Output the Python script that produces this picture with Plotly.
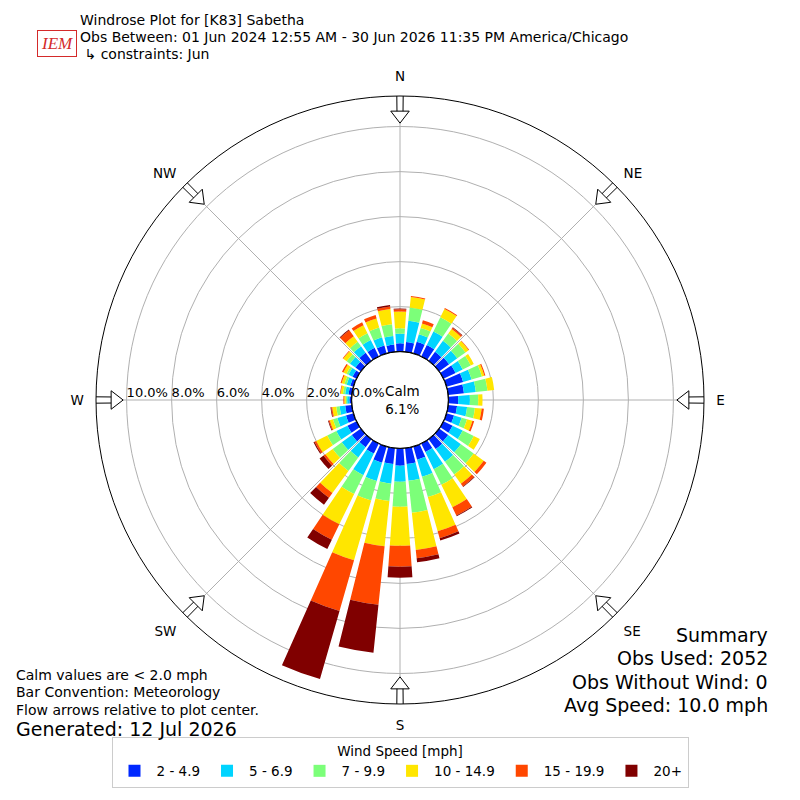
import numpy as np
import plotly.graph_objects as go

# wind rose data, percent of obs, one value per 10 degree direction
directions = list(range(0, 360, 10))

spd_2_5 = [0.37, 0.44, 0.54, 0.57, 0.50, 0.55, 0.60, 0.77, 0.71, 0.44, 0.40, 0.35,
           0.45, 0.50, 0.55, 0.42, 0.61, 0.71, 0.77, 0.71, 0.75, 0.50, 0.45, 0.50,
           0.45, 0.35, 0.30, 0.10, 0.15, 0.15, 0.20, 0.30, 0.45, 0.43, 0.37, 0.33]
spd_5_7 = [0.43, 0.95, 0.35, 0.67, 0.60, 0.45, 0.35, 0.39, 0.53, 0.52, 0.45, 0.35,
           0.50, 0.70, 0.70, 0.85, 0.79, 0.75, 0.71, 0.88, 0.85, 1.07, 0.56, 0.55,
           0.55, 0.40, 0.25, 0.10, 0.15, 0.17, 0.20, 0.30, 0.35, 0.39, 0.38, 0.38]
spd_7_10 = [0.24, 0.59, 0.29, 0.70, 0.40, 0.45, 0.40, 0.48, 0.52, 0.37, 0.35, 0.25,
            0.55, 0.70, 0.70, 0.77, 0.94, 1.43, 1.12, 0.77, 0.90, 0.93, 0.74, 0.50,
            0.45, 0.20, 0.15, 0.06, 0.10, 0.10, 0.10, 0.18, 0.25, 0.33, 0.45, 0.53]
spd_10_15 = [0.74, 0.47, 0.21, 0.41, 0.25, 0.17, 0.15, 0.11, 0.30, 0.19, 0.30, 0.25,
             0.30, 0.55, 0.50, 1.12, 1.58, 1.66, 1.73, 2.03, 2.76, 1.50, 1.21, 0.40,
             0.55, 0.15, 0.18, 0.07, 0.10, 0.13, 0.15, 0.19, 0.30, 0.40, 0.42, 0.68]
spd_15_20 = [0.10, 0.05, 0.15, 0.05, 0.07, 0.03, 0.00, 0.05, 0.00, 0.00, 0.10, 0.08,
             0.00, 0.15, 0.15, 0.40, 0.32, 0.37, 0.93, 2.61, 2.34, 0.76, 0.26, 0.10,
             0.08, 0.05, 0.05, 0.04, 0.03, 0.05, 0.07, 0.03, 0.33, 0.14, 0.16, 0.11]
spd_20_up = [0.04, 0.00, 0.00, 0.00, 0.03, 0.00, 0.00, 0.00, 0.00, 0.00, 0.00, 0.00,
             0.00, 0.00, 0.03, 0.04, 0.11, 0.18, 0.49, 2.14, 3.15, 0.46, 0.38, 0.22,
             0.05, 0.03, 0.03, 0.00, 0.00, 0.00, 0.00, 0.00, 0.04, 0.00, 0.00, 0.07]

bin_labels = ["2 - 4.9", "5 - 6.9", "7 - 9.9", "10 - 14.9", "15 - 19.9", "20+"]
bin_colors = ["#0028ff", "#00d4ff", "#7cff79", "#ffe600", "#ff4700", "#800000"]

calm_pct = 6.1
r_ticks = [0, 2, 4, 6, 8, 10]
compass = ["N", "NE", "E", "SE", "S", "SW", "W", "NW"]
compass_deg = [0, 45, 90, 135, 180, 225, 270, 315]

FONT = "DejaVu Sans"
r_max = 11.36
W = H = 784   # page body has an 8px margin


def px(x):
    return (x - 8) / W


def py(y):
    return 1 - (y - 8) / H


fig = go.Figure()

for vals, name, color in zip([spd_2_5, spd_5_7, spd_7_10, spd_10_15, spd_15_20, spd_20_up],
                             bin_labels, bin_colors):
    fig.add_trace(go.Barpolar(r=vals, theta=directions, width=8, name=name,
                              marker=dict(color=color, line=dict(width=0))))

# flow arrows on the outer ring: shaft + head
fig.add_trace(go.Barpolar(r=[1.0] * 8, theta=compass_deg, base=10.6, width=1.2,
                          marker=dict(color="white", line=dict(color="black", width=1)),
                          showlegend=False, hoverinfo="skip"))
fig.add_trace(go.Scatterpolar(r=[10.51] * 8, theta=compass_deg, mode="markers",
                              marker=dict(symbol="triangle-up", size=16, color="white",
                                          angle=[d + 180 for d in compass_deg],
                                          line=dict(color="black", width=1)),
                              showlegend=False, hoverinfo="skip"))

# black edge around the calm hole
ring = np.linspace(0, 360, 181)
fig.add_trace(go.Scatterpolar(r=[0] * len(ring), theta=ring, mode="lines",
                              line=dict(color="black", width=1.5),
                              showlegend=False, hoverinfo="skip"))

# radial tick labels, left aligned on each ring along the west spoke
fig.add_trace(go.Scatterpolar(r=r_ticks, theta=[270] * len(r_ticks), mode="text",
                              text=["%.1f%%" % t for t in r_ticks],
                              textposition="top right",
                              textfont=dict(size=13, color="black"),
                              showlegend=False, hoverinfo="skip"))

fig.update_layout(
    width=W, height=H,
    margin=dict(l=0, r=0, t=0, b=0),
    paper_bgcolor="white",
    font=dict(family=FONT, size=13, color="black"),
    polar=dict(
        domain=dict(x=[px(96), px(704)], y=[py(704), py(96)]),
        hole=0.159,
        bgcolor="white",
        barmode="stack",
        radialaxis=dict(range=[0, r_max], tickvals=r_ticks, showticklabels=False,
                        angle=180, showline=False, ticks="",
                        gridcolor="#b0b0b0", gridwidth=1),
        angularaxis=dict(rotation=90, direction="clockwise",
                         tickvals=compass_deg, ticktext=compass,
                         showline=True, linecolor="black", linewidth=1,
                         gridcolor="#b0b0b0", gridwidth=1,
                         ticks="outside", ticklen=9, tickcolor="rgba(0,0,0,0)",
                         tickfont=dict(size=13.5, color="black")),
    ),
    legend=dict(orientation="h", x=0.5, xanchor="center", y=py(788), yanchor="bottom",
                bordercolor="#cccccc", borderwidth=1, bgcolor="white",
                title=dict(text="Wind Speed [mph]", side="top center", font=dict(size=13.5)),
                font=dict(size=13.5), traceorder="normal", itemwidth=34),
    showlegend=True,
)

notes = [
    (78, 20, "Windrose Plot for [K83] Sabetha", 14, "left"),
    (78, 37, "Obs Between: 01 Jun 2024 12:55 AM - 30 Jun 2026 11:35 PM America/Chicago", 14, "left"),
    (78, 54, " \u21b3 constraints: Jun", 14, "left"),
    (14, 675, "Calm values are < 2.0 mph", 14, "left"),
    (14, 692, "Bar Convention: Meteorology", 14, "left"),
    (14, 710, "Flow arrows relative to plot center.", 14, "left"),
    (14, 729, "Generated: 12 Jul 2026", 19, "left"),
    (770, 635, "Summary", 19, "right"),
    (770, 658, "Obs Used: 2052", 19, "right"),
    (770, 682, "Obs Without Wind: 0", 19, "right"),
    (770, 705, "Avg Speed: 10.0 mph", 19, "right"),
]
for x, y, txt, size, anchor in notes:
    fig.add_annotation(x=px(x), y=py(y), xref="paper", yref="paper", text=txt, showarrow=False,
                       xanchor=anchor, yanchor="middle", font=dict(size=size, color="black"))

fig.add_annotation(x=px(402), y=0.5, xref="paper", yref="paper",
                   text="Calm<br>%.1f%%" % calm_pct, showarrow=False,
                   font=dict(size=13.5, color="black"))

# stand-in for the IEM logo
fig.add_annotation(x=px(37), y=py(30), xref="paper", yref="paper", text="<i>IEM</i>",
                   showarrow=False, font=dict(family="Liberation Serif", size=17, color="#d42a2a"),
                   bordercolor="#d42a2a", borderwidth=1, borderpad=3)

fig.write_html("out.html")
